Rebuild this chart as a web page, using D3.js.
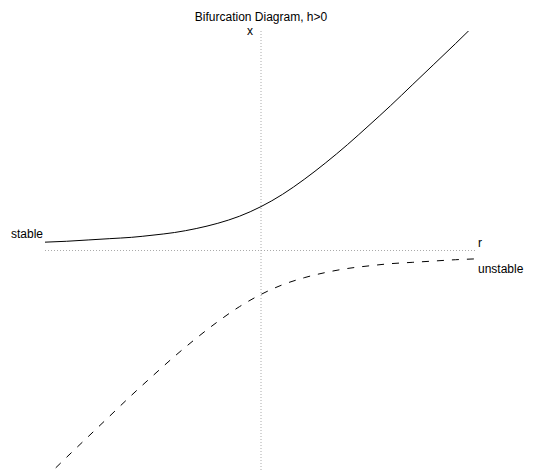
<!DOCTYPE html>
<html>
<head>
<meta charset="utf-8">
<script src="https://cdn.jsdelivr.net/npm/d3@7"></script>
<style>
  html, body { margin: 0; padding: 0; background: #fff; }
  svg { display: block; }
  text { font-family: "Liberation Sans", Arial, Helvetica, sans-serif; font-size: 12px; fill: #000; }
</style>
</head>
<body>
<svg id="chart" width="534" height="470"></svg>
<script>
// Control parameter r and the two equilibrium branches x*(r)
const rValues = [-5, -4.5, -4, -3.5, -3, -2.5, -2, -1.5, -1, -0.5, 0, 0.5, 1, 1.5, 2, 2.5, 3, 3.5, 4, 4.5, 5];
const stableX = [0.19, 0.21, 0.24, 0.27, 0.30, 0.35, 0.41, 0.50, 0.62, 0.78, 1.00, 1.28, 1.62, 2.00, 2.41, 2.85, 3.30, 3.77, 4.24, 4.71, 5.19];
const unstableX = [-5.19, -4.71, -4.24, -3.77, -3.30, -2.85, -2.41, -2.00, -1.62, -1.28, -1.00, -0.78, -0.62, -0.50, -0.41, -0.35, -0.30, -0.27, -0.24, -0.21, -0.19];

const rDomain = [-5, 5];
const xDomain = [-5, 5];

const title = "Bifurcation Diagram, h>0";
const axisLabels = { r: "r", x: "x" };
const branchLabels = { stable: "stable", unstable: "unstable" };

const svg = d3.select("#chart");
const plotLeft = 45, plotRight = 477, plotTop = 31, plotBottom = 470;

const sx = d3.scaleLinear().domain(rDomain).range([plotLeft, plotRight]);
const sy = d3.scaleLinear().domain(xDomain).range([plotBottom, plotTop]);

svg.append("defs").append("clipPath").attr("id", "plotClip")
  .append("rect").attr("x", plotLeft).attr("y", plotTop)
  .attr("width", plotRight - plotLeft).attr("height", plotBottom - plotTop);

// Dotted r and x axes through the origin
svg.append("line")
  .attr("x1", sx(rDomain[0])).attr("x2", sx(rDomain[1]))
  .attr("y1", sy(0)).attr("y2", sy(0))
  .attr("stroke", "#aaa").attr("stroke-width", 1).attr("stroke-dasharray", "1,2");
svg.append("line")
  .attr("x1", sx(0)).attr("x2", sx(0))
  .attr("y1", sy(xDomain[1])).attr("y2", sy(xDomain[0]))
  .attr("stroke", "#aaa").attr("stroke-width", 1).attr("stroke-dasharray", "1,2");

const line = d3.line()
  .x(d => sx(d[0]))
  .y(d => sy(d[1]))
  .curve(d3.curveMonotoneX);

const plot = svg.append("g").attr("clip-path", "url(#plotClip)");

plot.append("path")
  .datum(rValues.map((r, i) => [r, stableX[i]]))
  .attr("d", line)
  .attr("fill", "none").attr("stroke", "#000").attr("stroke-width", 1);

plot.append("path")
  .datum(rValues.map((r, i) => [r, unstableX[i]]))
  .attr("d", line)
  .attr("fill", "none").attr("stroke", "#000").attr("stroke-width", 1)
  .attr("stroke-dasharray", "7,8");

// Title and labels
svg.append("text").attr("x", sx(0)).attr("y", 21)
  .attr("text-anchor", "middle").text(title);
svg.append("text").attr("x", sx(0) - 11).attr("y", 35)
  .attr("text-anchor", "middle").text(axisLabels.x);
svg.append("text").attr("x", sx(rDomain[1]) + 1).attr("y", 247)
  .text(axisLabels.r);
svg.append("text").attr("x", sx(rDomain[0]) - 2).attr("y", 238)
  .attr("text-anchor", "end").text(branchLabels.stable);
svg.append("text").attr("x", sx(rDomain[1]) + 1).attr("y", 273)
  .text(branchLabels.unstable);
</script>
</body>
</html>
